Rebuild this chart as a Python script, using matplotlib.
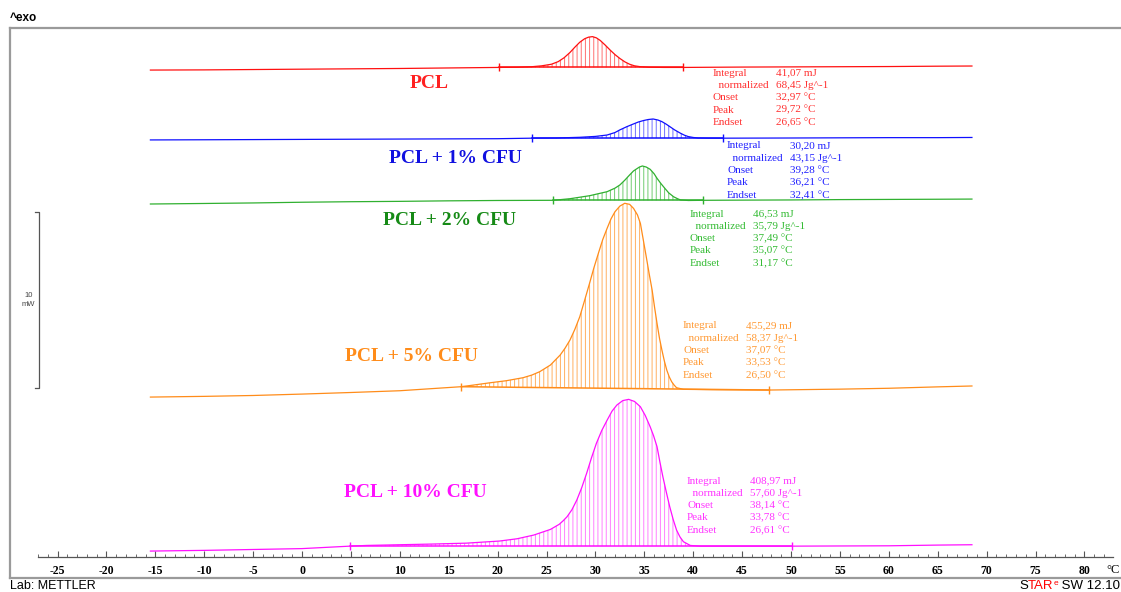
import numpy as np
import matplotlib.pyplot as plt
from matplotlib.patches import Polygon
from matplotlib.lines import Line2D

plt.rcParams['axes.unicode_minus'] = False
plt.rcParams['hatch.linewidth'] = 0.7

# ---- data (temperature in degC, heat flow in mW above each curve's start) ----
red_temp = [-15.5, -10, -5, 0, 5, 10, 15, 20.1, 22, 23.5, 24.5, 25.5, 26.2, 26.8, 27.4, 27.9, 28.4, 28.9,
            29.3, 29.7, 30.1, 30.5, 31.0, 31.5, 32.0, 32.5, 33.0, 33.5, 34.0, 34.6, 35.5, 37, 39.0, 45, 50,
            55, 60, 65, 68.5]
red_flow = [0, 0.01, 0.03, 0.05, 0.07, 0.09, 0.12, 0.15, 0.16, 0.19, 0.24, 0.33, 0.48, 0.70, 1.00, 1.30, 1.58,
            1.78, 1.87, 1.90, 1.83, 1.68, 1.42, 1.14, 0.88, 0.66, 0.47, 0.33, 0.24, 0.19, 0.16, 0.15, 0.15,
            0.17, 0.18, 0.19, 0.20, 0.22, 0.23]

blue_temp = [-15.5, -10, -5, 0, 5, 10, 15, 20, 23.5, 26, 28.4, 30, 31.2, 32.0, 32.5, 33.2, 33.9, 34.4, 34.9,
             35.4, 35.9, 36.4, 36.8, 37.2, 37.6, 38.1, 38.7, 39.1, 39.5, 40.0, 40.5, 41.5, 43.0, 50, 55, 60,
             65, 68.5]
blue_flow = [0, 0.01, 0.02, 0.03, 0.04, 0.05, 0.06, 0.07, 0.10, 0.11, 0.15, 0.20, 0.28, 0.42, 0.57, 0.75, 0.91,
             1.02, 1.10, 1.16, 1.19, 1.13, 1.04, 0.91, 0.76, 0.57, 0.38, 0.27, 0.19, 0.14, 0.11, 0.10, 0.10,
             0.11, 0.12, 0.13, 0.13, 0.14]

green_temp = [-15.5, -10, -5, 0, 5, 10, 15, 20, 25.7, 27.4, 29.4, 31.2, 32.0, 32.5, 33.0, 33.5, 33.9, 34.2,
              34.5, 34.8, 35.2, 35.6, 36.0, 36.3, 36.7, 37.1, 37.5, 38.0, 38.4, 38.7, 39.5, 41.0, 45, 50, 55,
              60, 65, 68.5]
green_flow = [0, 0.03, 0.06, 0.10, 0.13, 0.15, 0.18, 0.20, 0.21, 0.30, 0.47, 0.70, 0.90, 1.08, 1.35, 1.65,
              1.88, 1.99, 2.10, 2.16, 2.10, 1.97, 1.72, 1.46, 1.16, 0.89, 0.63, 0.41, 0.30, 0.23, 0.20, 0.21,
              0.22, 0.23, 0.25, 0.26, 0.27, 0.28]

orange_temp = [-15.5, -10, -5, 0, 5, 10, 16.3, 17.5, 19.2, 20.9, 22.6, 23.5, 24.3, 25.4, 26.4, 26.9, 27.4,
               27.9, 28.4, 28.9, 29.4, 29.85, 30.3, 30.75, 31.2, 31.6, 32.0, 32.5, 33.0, 33.5, 33.9, 34.3,
               34.6, 35.2, 35.5, 35.8, 36.05, 36.3, 36.55, 36.8, 37.05, 37.3, 37.55, 37.8, 38.05, 38.3, 39.0,
               42, 47.8, 55, 60, 65, 68.5]
orange_flow = [0, 0.04, 0.09, 0.17, 0.26, 0.36, 0.59, 0.68, 0.81, 0.93, 1.10, 1.25, 1.44, 1.82, 2.39, 2.78,
               3.24, 3.85, 4.56, 5.50, 6.46, 7.35, 8.16, 8.95, 9.59, 10.13, 10.53, 10.85, 11.01, 10.95, 10.72,
               10.35, 9.87, 7.97, 7.00, 6.08, 5.10, 4.19, 3.35, 2.67, 2.05, 1.53, 1.15, 0.87, 0.68, 0.53, 0.44,
               0.42, 0.40, 0.45, 0.50, 0.58, 0.63]

magenta_temp = [-15.5, -10, -5, 0, 4.9, 6.6, 10.0, 13.4, 16.8, 20.2, 22.0, 23.7, 25.4, 26.3, 26.7, 27.1,
                27.6, 28.1, 28.6, 29.1, 29.6, 30.1, 30.65, 31.2, 31.7, 32.2, 32.8, 33.4, 34.0, 34.6, 35.1,
                35.6, 35.95, 36.3, 36.6, 36.9, 37.25, 37.6, 37.95, 38.3, 38.65, 39.0, 39.7, 40.7, 45, 50.1,
                55, 60, 65, 68.5]
magenta_flow = [0, 0.04, 0.09, 0.14, 0.28, 0.32, 0.36, 0.40, 0.45, 0.57, 0.70, 0.91, 1.23, 1.52, 1.72, 1.95,
                2.35, 2.90, 3.60, 4.41, 5.30, 6.12, 6.85, 7.44, 7.95, 8.30, 8.55, 8.62, 8.50, 8.20, 7.70, 7.06,
                6.55, 5.93, 5.05, 4.22, 3.35, 2.52, 1.80, 1.19, 0.80, 0.53, 0.32, 0.28, 0.28, 0.28, 0.29, 0.30,
                0.34, 0.36]

sample_names = ['PCL', 'PCL + 1% CFU', 'PCL + 2% CFU', 'PCL + 5% CFU', 'PCL + 10% CFU']
integration_limits = [(20.1, 39.0), (23.5, 43.0), (25.7, 41.0), (16.3, 47.8), (4.9, 50.1)]

table_labels = ['Integral', '  normalized', 'Onset', 'Peak', 'Endset']
pcl_values = ['41,07 mJ', '68,45 Jg^-1', '32,97 °C', '29,72 °C', '26,65 °C']
cfu1_values = ['30,20 mJ', '43,15 Jg^-1', '39,28 °C', '36,21 °C', '32,41 °C']
cfu2_values = ['46,53 mJ', '35,79 Jg^-1', '37,49 °C', '35,07 °C', '31,17 °C']
cfu5_values = ['455,29 mJ', '58,37 Jg^-1', '37,07 °C', '33,53 °C', '26,50 °C']
cfu10_values = ['408,97 mJ', '57,60 Jg^-1', '38,14 °C', '33,78 °C', '26,61 °C']

x_ticks = list(range(-25, 81, 5))
scale_bar_mw = 10

# ---- layout / styling ----
W, H = 1121, 592
SERIF = 'Liberation Serif'
SANS = 'Liberation Sans'

curves = [
    # temp, flow, vertical offset, line color, hatch color, label color, table color
    (red_temp, red_flow, 28.86, '#ff1010', '#ff7070', '#ff2020', '#ff3030'),
    (blue_temp, blue_flow, 24.89, '#1010ff', '#7070ff', '#1010e0', '#2020ff'),
    (green_temp, green_flow, 21.25, '#30b030', '#70cc70', '#168a16', '#33bb33'),
    (orange_temp, orange_flow, 10.28, '#ff8c1a', '#ffb060', '#ff8c1a', '#ff9933'),
    (magenta_temp, magenta_flow, 1.53, '#ff10ff', '#ff80ff', '#ff10ff', '#ff33ff'),
]
label_pos = [(12.99, 28.07), (15.70, 23.86), (15.08, 20.34), (11.15, 12.56), (11.55, 4.83)]
table_pos = [(42.02, 28.69), (43.46, 24.55), (39.67, 20.68), (38.96, 14.32), (39.37, 5.51)]
tables = [pcl_values, cfu1_values, cfu2_values, cfu5_values, cfu10_values]
row_step = 0.70
value_dx = 6.4

fig = plt.figure(figsize=(W / 100, H / 100), dpi=100)
ax = fig.add_axes([0, 0, 1, 1])
ax.set_xlim(-302 / 9.78, (W - 302) / 9.78)
ax.set_ylim((578 - H) / 17.6, 578 / 17.6)
ax.patch.set_visible(False)

for i, (temp, flow, off, lc, hc, labc, tabc) in enumerate(curves):
    t = np.array(temp)
    y = off + np.array(flow)
    lo, hi = integration_limits[i]
    mask = (t >= lo) & (t <= hi)
    poly = Polygon(np.column_stack([t[mask], y[mask]]), closed=True, fill=False,
                   hatch='||||', edgecolor=hc, lw=0)
    ax.add_patch(poly)
    ax.plot(t, y, color=lc, lw=0.9)
    y_lo = off + flow[temp.index(lo)]
    y_hi = off + flow[temp.index(hi)]
    ax.plot([lo, hi], [y_lo, y_hi], color=lc, lw=1.1)
    ax.plot([lo, hi], [y_lo, y_hi], ls='none', marker='|', ms=6, mew=1.0, color=lc)

    lx, ly = label_pos[i]
    ax.text(lx, ly, sample_names[i], color=labc, fontsize=14, fontweight='bold',
            family=SERIF, ha='center', va='center')

    tx, ty = table_pos[i]
    for r, (lab, val) in enumerate(zip(table_labels, tables[i])):
        ax.text(tx, ty - r * row_step, lab, color=tabc, fontsize=8, family=SERIF, va='center')
        ax.text(tx + value_dx, ty - r * row_step, val, color=tabc, fontsize=8, family=SERIF, va='center')

# temperature axis
for s in ['top', 'left', 'right']:
    ax.spines[s].set_visible(False)
ax.spines['bottom'].set_position(('data', 1.22))
ax.spines['bottom'].set_bounds(-27, 82.9)
ax.spines['bottom'].set_color('#555555')
ax.spines['bottom'].set_linewidth(0.9)
ax.set_xticks(x_ticks)
ax.set_xticks(np.arange(-27, 83, 1), minor=True)
ax.set_xticklabels([str(v) for v in x_ticks])
ax.tick_params(axis='x', which='both', direction='in', color='#555555')
ax.tick_params(axis='x', which='major', length=4, pad=6, labelsize=8.5)
ax.tick_params(axis='x', which='minor', length=2.5)
ax.set_yticks([])
for lab in ax.get_xticklabels():
    lab.set_fontfamily(SERIF)
    lab.set_fontweight('bold')
ax.text(82.2, 0.45, '°C', fontsize=9, family=SERIF, va='center', ha='left')

# 10 mW scale bar
bar_lo = 10.8
ax.plot([-27.3, -26.9, -26.9, -27.3], [bar_lo + scale_bar_mw, bar_lo + scale_bar_mw, bar_lo, bar_lo],
        color='#555555', lw=0.9)
ax.text(-28.0, bar_lo + scale_bar_mw / 2, f'{scale_bar_mw}\nmW', fontsize=5.5, family=SANS,
        color='#444444', ha='center', va='center', linespacing=1.3)

# frame
def fx(px):
    return px / W

def fy(py):
    return 1 - py / H

frame_kw = dict(color='#9a9a9a', lw=1.6, transform=fig.transFigure)
fig.add_artist(Line2D([fx(10), 1], [fy(28), fy(28)], **frame_kw))
fig.add_artist(Line2D([fx(10), fx(10)], [fy(28), fy(578)], **frame_kw))
fig.add_artist(Line2D([fx(10), 1], [fy(578), fy(578)], **frame_kw))

fig.text(fx(10), fy(18), '^exo', fontsize=8.5, family=SANS, fontweight='bold', va='center')
fig.text(fx(10), fy(586), 'Lab: METTLER', fontsize=9, family=SANS, va='center')

t1 = fig.text(fx(1019), fy(586), 'S', fontsize=9.5, family=SANS, va='center')
t2 = ax.annotate('TAR', xy=(1, 0), xycoords=t1, va='bottom', ha='left', fontsize=9.5,
                 family=SANS, color='red')
t3 = ax.annotate('e', xy=(1, 0.45), xycoords=t2, va='bottom', ha='left', fontsize=6,
                 family=SANS, color='red')
ax.annotate(' SW 12.10', xy=(1, 0), xycoords=(t3, t2), va='bottom', ha='left', fontsize=9.5,
            family=SANS)

fig.savefig('out.png', dpi=100)
